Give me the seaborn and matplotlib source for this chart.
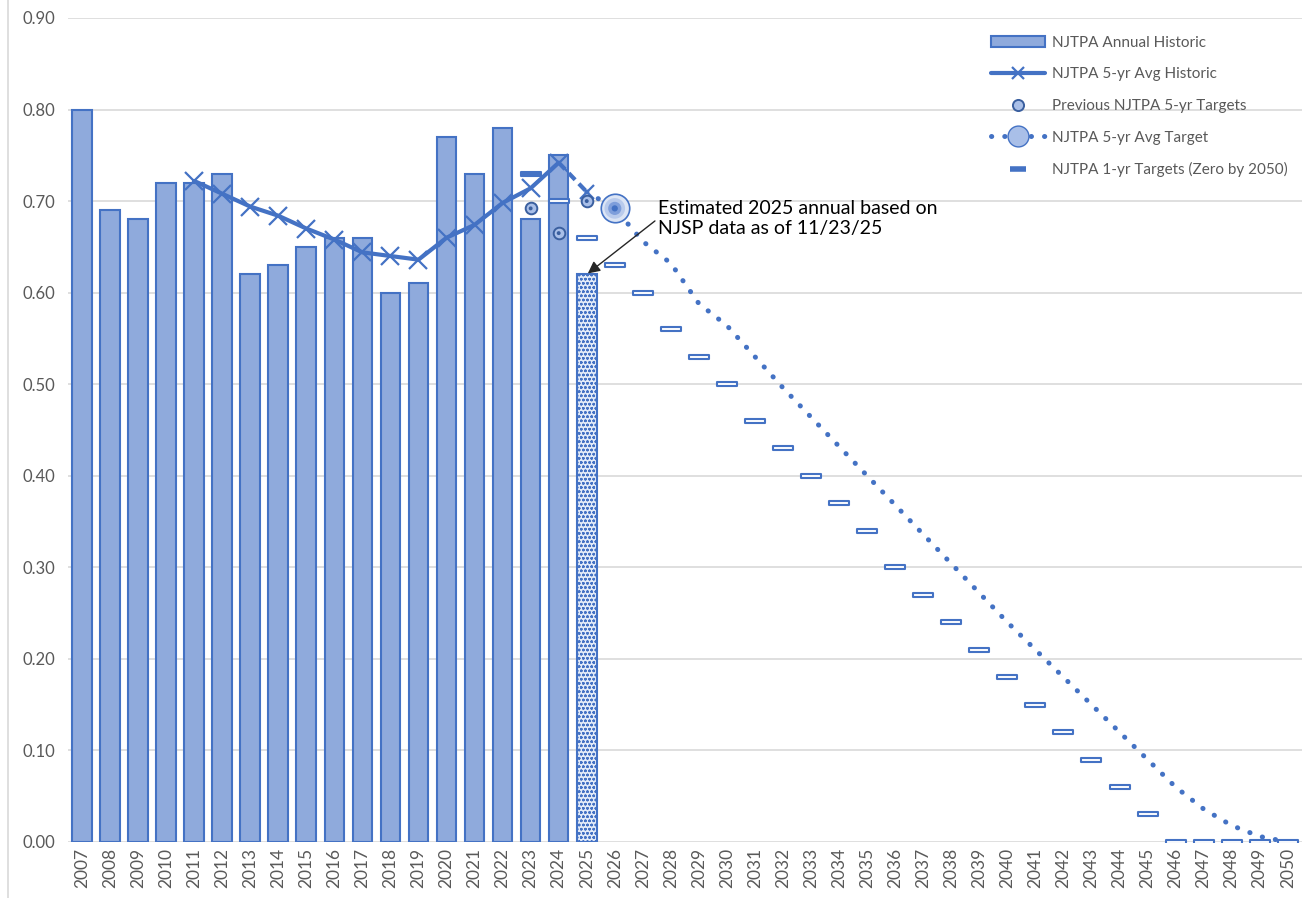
import numpy as np
import pandas as pd
import matplotlib
matplotlib.use("Agg")
import matplotlib.pyplot as plt
import seaborn as sns
from matplotlib.path import Path
from matplotlib.lines import Line2D
from matplotlib.patches import Patch

# chart data
years = list(range(2007, 2051))
annual_years = list(range(2007, 2025))
annual = [0.80, 0.69, 0.68, 0.72, 0.72, 0.73, 0.62, 0.63, 0.65, 0.66,
          0.66, 0.60, 0.61, 0.77, 0.73, 0.78, 0.68, 0.75]
est_year = 2025
est_annual = 0.62

avg_years = list(range(2011, 2025))
avg_hist = [0.722, 0.708, 0.694, 0.684, 0.670, 0.658, 0.644, 0.640, 0.636,
            0.660, 0.674, 0.698, 0.714, 0.742]
avg_est_years = [2024, 2025]
avg_est = [0.742, 0.710]

prev_years = [2023, 2024, 2025]
prev_targets = [0.692, 0.665, 0.700]

tgt_avg_years = list(range(2025, 2051))
tgt_avg = [0.710, 0.692, 0.656, 0.632, 0.588, 0.564, 0.530, 0.496, 0.464,
           0.432, 0.400, 0.368, 0.336, 0.304, 0.272, 0.240, 0.210, 0.180,
           0.150, 0.120, 0.090, 0.060, 0.036, 0.018, 0.006, 0.000]

one_yr_years = list(range(2023, 2051))
one_yr = [0.73, 0.70, 0.66, 0.63, 0.60, 0.56, 0.53, 0.50, 0.46, 0.43, 0.40,
          0.37, 0.34, 0.30, 0.27, 0.24, 0.21, 0.18, 0.15, 0.12, 0.09, 0.06,
          0.03, 0.00, 0.00, 0.00, 0.00, 0.00]

blue = "#4472C4"
fill = "#8FAADC"
grey = "#595959"

sns.set_style("white")
plt.rcParams["font.family"] = ["Lato", "DejaVu Sans"]
plt.rcParams["hatch.linewidth"] = 0.7

fig = plt.figure(figsize=(13.07, 8.98), dpi=100)
ax = fig.add_axes([0.052, 0.0624, 0.944, 0.9176])

pos = {y: i for i, y in enumerate(years)}

# bars: historic + estimated 2025 (blank elsewhere)
bar_df = pd.DataFrame({"year": [str(y) for y in years],
                       "value": [np.nan] * len(years)})
for y, v in zip(annual_years, annual):
    bar_df.loc[pos[y], "value"] = v
bar_df.loc[pos[est_year], "value"] = est_annual
sns.barplot(data=bar_df, x="year", y="value", color=fill, saturation=1,
            width=0.7, edgecolor=blue, linewidth=1.5, ax=ax, zorder=2)
est_bar = ax.patches[pos[est_year]]
est_bar.set_facecolor("#E3EBF8")
est_bar.set_hatch("oooo")
est_bar.set_edgecolor(blue)

# 5-yr avg historic
hist_df = pd.DataFrame({"x": [pos[y] for y in avg_years], "y": avg_hist})
sns.lineplot(data=hist_df, x="x", y="y", color=blue, linewidth=3,
             marker="x", markersize=13, markeredgewidth=1.6,
             markeredgecolor=blue, ax=ax, zorder=4)
est_df = pd.DataFrame({"x": [pos[y] for y in avg_est_years], "y": avg_est})
ax.plot(est_df["x"], est_df["y"], color=blue, linewidth=3,
        linestyle=(0, (2.2, 1.3)), zorder=4)
ax.plot(est_df["x"].iloc[-1], est_df["y"].iloc[-1], marker="x",
        markersize=10, markeredgewidth=1.6, color=blue, zorder=4)

# 5-yr avg target (dotted)
tgt_df = pd.DataFrame({"x": [pos[y] for y in tgt_avg_years], "y": tgt_avg})
ax.plot(tgt_df["x"], tgt_df["y"], color=blue, linewidth=3.6,
        linestyle=(0, (0.05, 2.6)), dash_capstyle="round", zorder=4)
bx, by = pos[2026], tgt_avg[1]
for s, fc, ec in [(420, "#DCE5F5", blue), (220, "#B8CAEC", "none"),
                  (90, "#7E9EDB", "none"), (20, "#4472C4", "none")]:
    ax.scatter(bx, by, s=s, facecolor=fc, edgecolor=ec, linewidth=1.2,
               zorder=5)

# previous 5-yr targets
prev_df = pd.DataFrame({"x": [pos[y] for y in prev_years], "y": prev_targets})
sns.scatterplot(data=prev_df, x="x", y="y", s=70, color="#A9BFE8",
                edgecolor="#3A5F9F", linewidth=1.4, ax=ax, zorder=5)
sns.scatterplot(data=prev_df, x="x", y="y", s=8, color="#3A5F9F",
                edgecolor="none", ax=ax, zorder=6)

# 1-yr targets (hollow dash boxes)
rect = Path([(-1, -0.24), (1, -0.24), (1, 0.24), (-1, 0.24), (-1, -0.24)],
            [Path.MOVETO, Path.LINETO, Path.LINETO, Path.LINETO,
             Path.CLOSEPOLY])
one_df = pd.DataFrame({"x": [pos[y] for y in one_yr_years], "y": one_yr})
sns.scatterplot(data=one_df.iloc[1:], x="x", y="y", marker=rect, s=210,
                color="white", edgecolor=blue, linewidth=1.5, ax=ax, zorder=6)
sns.scatterplot(data=one_df.iloc[:1], x="x", y="y", marker=rect, s=210,
                color=blue, edgecolor=blue, linewidth=1.5, ax=ax, zorder=6)

# annotation
ax.annotate("Estimated 2025 annual based on\nNJSP data as of 11/23/25",
            xy=(pos[est_year], est_annual), xytext=(pos[2027] + 0.55, 0.661),
            fontsize=14, color="black", ha="left", va="bottom",
            linespacing=1.2,
            arrowprops=dict(arrowstyle="-|>", color="#262626", lw=1,
                            shrinkA=0, shrinkB=1, mutation_scale=18,
                            relpos=(0.0, 0.5)),
            zorder=7)

# axes styling
ax.set_ylim(0, 0.9)
ax.set_yticks(np.arange(0, 0.91, 0.1))
ax.set_yticklabels([f"{v:.2f}" for v in np.arange(0, 0.91, 0.1)])
ax.set_xlim(-0.5, len(years) - 0.5)
ax.set_xlabel("")
ax.set_ylabel("")
ax.tick_params(axis="x", rotation=90, labelsize=12.5, colors=grey, length=0,
               pad=4)
ax.tick_params(axis="y", labelsize=12, colors=grey, length=0, pad=9)
ax.yaxis.grid(True, color="#D9D9D9", linewidth=1.2)
ax.set_axisbelow(True)
for sp in ax.spines.values():
    sp.set_visible(False)

fig.add_artist(Line2D([0.006, 0.006], [0.0, 1.0], color="#D9D9D9",
                      linewidth=1.2, transform=fig.transFigure))

# legend
handles = [
    Patch(facecolor=fill, edgecolor=blue, linewidth=1.5),
    Line2D([], [], color=blue, linewidth=3, marker="x", markersize=9,
           markeredgewidth=1.6),
    Line2D([], [], linestyle="none", marker="o", markersize=8,
           markerfacecolor="#A9BFE8", markeredgecolor="#3A5F9F",
           markeredgewidth=1.4),
    Line2D([], [], color=blue, linewidth=3.6, linestyle=(0, (0.05, 2.6)),
           dash_capstyle="round", marker="o", markersize=15,
           markerfacecolor="#A9BFE8", markeredgecolor=blue),
    Line2D([], [], linestyle="none", marker="_", markersize=12,
           markeredgewidth=4, color=blue),
]
labels = ["NJTPA Annual Historic", "NJTPA 5-yr Avg Historic",
          "Previous NJTPA 5-yr Targets", "NJTPA 5-yr Avg Target",
          "NJTPA 1-yr Targets (Zero by 2050)"]
leg = ax.legend(handles, labels, loc="upper right",
                bbox_to_anchor=(1.0, 0.995), frameon=False, fontsize=11,
                labelspacing=1.15, handlelength=3.5, handletextpad=0.5,
                labelcolor=grey)

fig.savefig("out.png", dpi=100)
